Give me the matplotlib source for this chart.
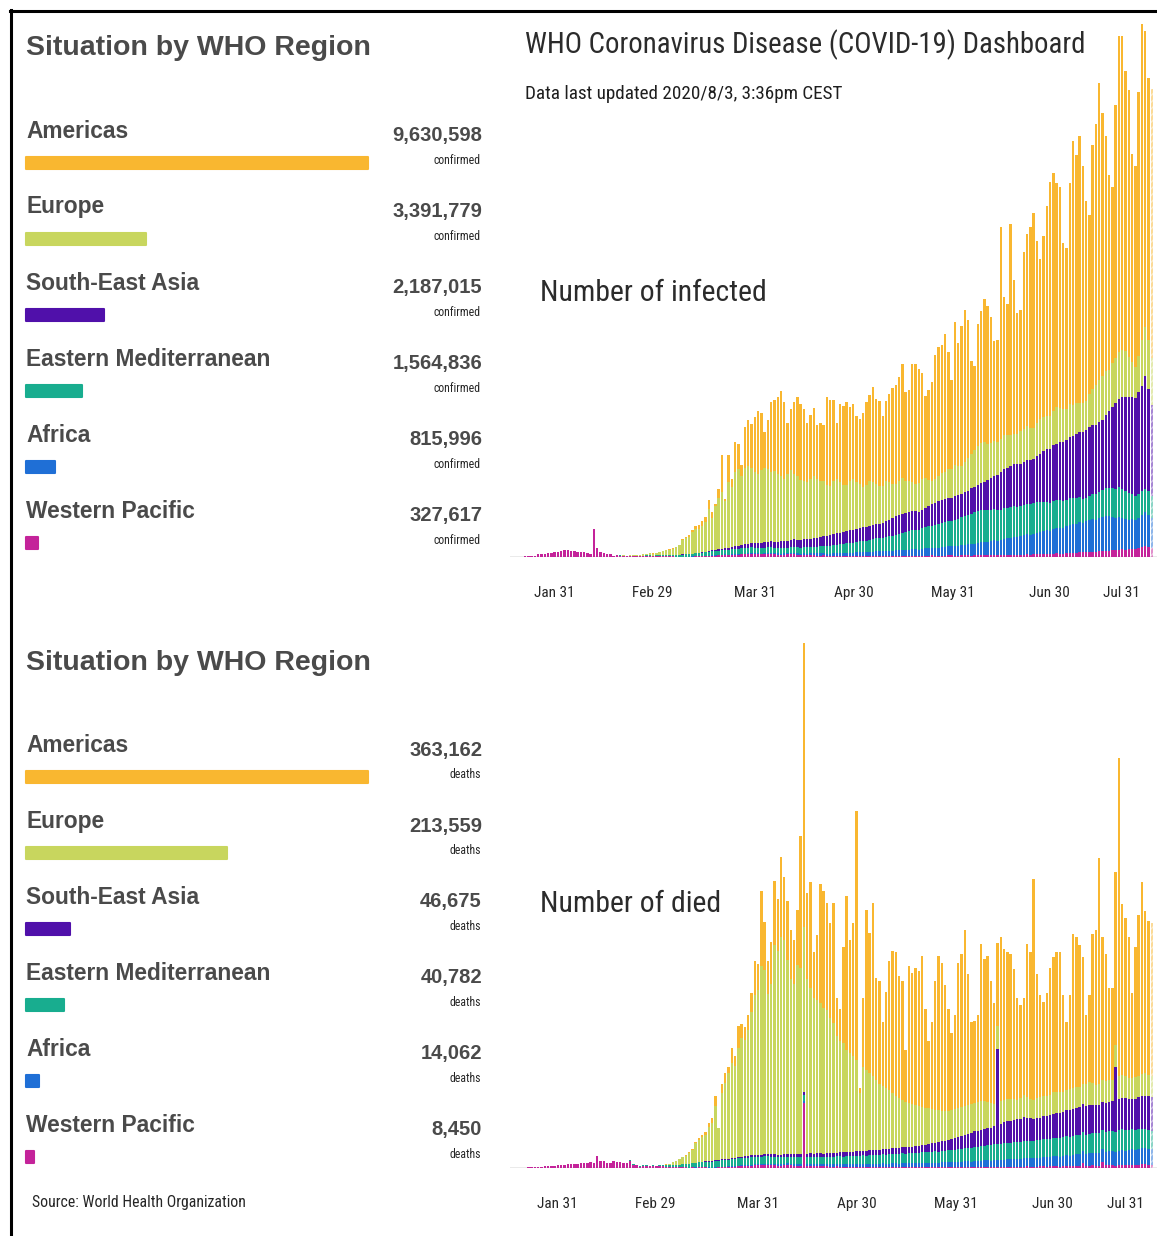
import matplotlib
matplotlib.use('Agg')

import numpy as np
import pandas as pd
import matplotlib.pyplot as plt
import matplotlib.dates as mdates
from matplotlib.lines import Line2D

W, H = 1157, 1236
NARROW = ['Liberation Sans Narrow', 'Roboto Condensed', 'DejaVu Sans']
BOLD = ['Liberation Sans', 'DejaVu Sans']

regions = ['Americas', 'Europe', 'South-East Asia', 'Eastern Mediterranean', 'Africa', 'Western Pacific']
colors = ['#f9b730', '#c8d65e', '#5010aa', '#18ad8f', '#1f6fd6', '#c4239a']
confirmed_totals = [9630598, 3391779, 2187015, 1564836, 815996, 327617]
death_totals = [363162, 213559, 46675, 40782, 14062, 8450]

# one bar per day, 2020-01-21 .. 2020-08-02 (last day still incomplete)
days = pd.date_range('2020-01-21', periods=194)

# ---- daily new cases, thousands ----
wp_cases = [0.15, 0.15, 0.3, 0.5, 0.7, 0.8, 1.8, 1.5, 1.7, 2.0,
            2.1, 2.6, 2.8, 3.2, 3.9, 3.7, 3.2, 3.4, 2.7, 3.0,
            2.5, 2.0, 1.8, 15.2, 5.1, 2.6, 2.0, 1.9, 1.8, 0.4,
            0.9, 0.8, 0.65, 0.4, 0.5, 0.45, 0.45, 0.4, 0.5, 0.6,
            0.6, 0.3, 0.3, 0.3, 0.35, 0.35, 0.3, 0.3, 0.25, 0.2,
            0.15, 0.2, 0.2, 0.25, 0.3, 0.35, 0.4, 0.5, 0.6, 0.7,
            0.8, 0.9, 1.0, 1.1, 1.0, 1.2, 1.3, 1.3, 1.4, 1.5,
            1.6, 1.8, 1.5, 1.6, 1.4, 1.5, 1.7, 1.8, 1.4, 1.3,
            1.2, 1.3, 1.5, 1.6, 1.4, 1.2, 1.0, 1.0, 0.9, 1.0,
            0.9, 0.8, 0.8, 0.9, 0.7, 0.6, 0.7, 0.8, 0.6, 0.6,
            0.7, 0.6, 0.5, 0.6, 0.7, 0.6, 0.5, 0.6, 0.7, 0.8,
            0.7, 0.6, 0.7, 0.6, 0.6, 0.7, 0.8, 0.7, 0.6, 0.7,
            0.8, 0.7, 0.6, 0.7, 0.7, 0.8, 0.9, 0.8, 0.7, 0.8,
            0.8, 0.9, 0.9, 0.8, 0.7, 0.9, 1.0, 0.9, 0.8, 0.9,
            1.0, 1.1, 1.0, 0.9, 1.1, 1.2, 1.0, 1.1, 1.2, 1.1,
            1.2, 1.3, 1.2, 1.1, 1.3, 1.4, 1.2, 1.4, 1.5, 1.4,
            1.6, 1.7, 1.5, 1.8, 2.0, 1.9, 1.8, 2.1, 2.3, 2.2,
            2.4, 2.6, 2.5, 2.7, 2.9, 3.0, 2.8, 3.1, 3.3, 3.4,
            3.5, 3.8, 3.6, 3.9, 4.2, 4.1, 4.4, 4.6, 4.5, 4.9,
            5.6, 6.0, 5.4, 5.2]
afr_cases = [0] * 50 + [
            0.02, 0.03, 0.04, 0.05, 0.06, 0.08, 0.1, 0.12, 0.15, 0.18,
            0.2, 0.22, 0.25, 0.28, 0.3, 0.3, 0.32, 0.35, 0.38, 0.4,
            0.42, 0.45, 0.5, 0.48, 0.52, 0.55, 0.6, 0.58, 0.62, 0.65,
            0.7, 0.68, 0.72, 0.8, 0.85, 0.9, 0.88, 0.95, 1.0, 1.05,
            1.1, 1.15, 1.2, 1.25, 1.2, 1.3, 1.4, 1.45, 1.5, 1.6,
            1.7, 1.8, 1.75, 1.9, 2.0, 2.1, 2.0, 2.2, 2.3, 2.4,
            2.5, 2.6, 2.5, 2.7, 2.8, 3.0, 2.9, 3.1, 3.2, 3.3,
            3.4, 3.6, 3.5, 3.8, 4.0, 4.1, 4.0, 4.3, 4.5, 4.6,
            4.8, 5.0, 4.9, 5.3, 5.6, 5.8, 5.7, 6.0, 6.3, 6.5,
            6.8, 7.2, 7.0, 7.5, 7.9, 8.2, 8.0, 8.4, 8.8, 9.1,
            9.5, 9.9, 9.6, 10.2, 10.6, 11.0, 10.8, 11.4, 11.9, 12.3,
            12.6, 13.0, 12.7, 13.4, 13.9, 14.3, 14.1, 14.8, 15.3, 15.7,
            16.0, 16.6, 16.2, 17.1, 17.6, 18.0, 17.7, 18.4, 18.9, 19.3,
            18.8, 18.2, 17.6, 18.0, 17.4, 16.8, 16.2, 16.5, 15.9, 16.8,
            17.5, 18.6, 17.9, 16.0]
emr_cases = [0] * 28 + [
            0.01, 0.02, 0.03, 0.05, 0.08, 0.1, 0.12, 0.15, 0.2, 0.25, 0.3, 0.35,
            0.4, 0.5, 0.55, 0.6, 0.7, 0.75, 0.8, 0.9, 1.0, 1.1,
            1.2, 1.3, 1.4, 1.5, 1.6, 1.7, 1.9, 2.0, 2.1, 2.2,
            2.3, 2.4, 2.5, 2.6, 2.6, 2.7, 2.7, 2.8, 2.9, 2.9,
            2.9, 3.0, 3.0, 2.9, 2.8, 2.9, 3.0, 3.1, 3.0, 2.9,
            3.0, 3.1, 3.0, 3.2, 3.3, 3.2, 3.3, 3.4, 3.5, 3.4,
            3.5, 3.7, 3.8, 4.0, 4.1, 4.3, 4.5, 4.6, 4.8, 5.0,
            5.3, 5.5, 5.6, 5.8, 6.0, 6.2, 6.4, 6.5, 6.8, 7.0,
            7.2, 7.5, 7.8, 8.1, 8.3, 8.6, 9.0, 9.3, 9.7, 10.1,
            10.5, 10.8, 11.0, 11.4, 11.8, 12.0, 12.3, 12.6, 13.0, 13.2,
            13.5, 13.7, 13.8, 14.3, 14.8, 15.2, 15.8, 16.3, 16.8, 17.1,
            17.4, 17.6, 17.6, 17.3, 17.0, 16.8, 16.6, 16.5, 16.7, 16.9,
            16.8, 16.6, 16.5, 16.7, 16.9, 17.0, 17.1, 17.0, 16.7, 16.3,
            16.0, 15.7, 15.4, 15.6, 15.3, 15.1, 14.9, 14.7, 15.0, 14.6,
            14.2, 13.8, 13.3, 12.8, 13.2, 13.6, 14.0, 14.3, 14.5, 15.0,
            15.5, 16.0, 16.4, 16.5, 16.0, 15.2, 14.5, 13.8, 13.2, 13.0,
            13.1, 13.0, 13.2, 12.5]
sear_cases = [0] * 45 + [
            0.02, 0.03, 0.03, 0.04, 0.05,
            0.06, 0.08, 0.1, 0.12, 0.15, 0.18, 0.22, 0.3, 0.4, 0.5,
            0.6, 0.7, 0.8, 0.95, 1.1, 1.3, 1.5, 1.7, 1.9, 2.1,
            2.3, 2.5, 2.7, 2.8, 2.9, 3.1, 3.2, 3.3, 3.5, 3.6,
            3.8, 3.9, 3.7, 4.0, 4.1, 4.3, 4.2, 4.4, 4.6, 4.7,
            4.8, 5.0, 5.2, 5.5, 5.8, 6.0, 6.1, 6.3, 6.5, 6.6,
            6.7, 6.9, 7.0, 7.2, 7.3, 7.4, 7.5, 7.5, 7.6, 7.7,
            7.8, 8.2, 8.6, 9.0, 9.5, 10.0, 10.2, 10.4, 10.5, 10.6,
            10.5, 10.0, 9.6, 10.1, 10.7, 11.3, 11.8, 12.1, 12.4, 12.6,
            12.8, 12.9, 13.0, 13.1, 13.0, 12.9, 13.0, 13.2, 13.8, 14.2,
            14.6, 15.0, 15.4, 16.5, 17.6, 18.6, 19.5, 21.0, 21.6, 22.1,
            22.6, 23.1, 23.6, 23.4, 23.6, 23.9, 24.1, 24.3, 25.5, 26.7,
            27.9, 28.9, 30.0, 30.6, 31.2, 31.8, 32.4, 33.0, 33.5, 34.2,
            35.0, 35.8, 36.6, 37.4, 37.8, 38.0, 38.2, 38.5, 38.6, 40.5,
            42.3, 44.6, 47.0, 48.5, 50.2, 52.0, 52.7, 53.3, 54.0, 56.0,
            58.0, 62.0, 56.0, 50.0]
eur_cases = [0] * 29 + [
            0.02, 0.05, 0.1, 0.15, 0.2, 0.25, 0.35, 0.45, 0.6, 0.7, 0.8,
            1.0, 1.1, 1.5, 1.8, 2.2, 2.6, 2.9, 3.4, 4.0, 5.0,
            8.0, 8.7, 9.5, 11.7, 13.3, 13.3, 14.7, 16.1, 23.1, 17.7,
            24, 28, 31, 26, 36, 33, 41, 42, 38, 42,
            43, 41, 39, 38, 40, 41, 40, 38, 39, 37,
            36, 34, 37, 38, 36, 35, 33, 32, 31, 33,
            34, 32, 31, 30, 28, 27, 29, 30, 28, 26,
            25, 27, 28, 26, 24, 22, 23, 25, 24, 22,
            21, 20, 22, 21, 19, 18, 19, 20, 18, 17,
            16, 15, 16, 17, 16, 14, 13, 13, 14, 15,
            15, 16, 16, 17, 16, 15, 17, 18, 19, 20,
            21, 22, 22, 20, 19, 19, 18, 18, 19, 18,
            17, 17, 17, 18, 18, 19, 18, 17, 18, 19,
            19, 18, 18, 19, 20, 19, 18, 17, 18, 17,
            17, 16, 16, 16, 18, 20, 22, 23, 24, 24,
            23, 24, 25, 26, 26, 25, 22, 19, 17, 20,
            25, 27, 27, 26]
amr_cases = [0] * 40 + [
            0.02, 0.03, 0.05, 0.06, 0.08, 0.1, 0.15, 0.2, 0.3, 0.4,
            0.5, 0.7, 0.9, 1.2, 1.6, 2.0, 2.5, 3.0, 5.0, 3.5,
            1.0, 5.2, 20.5, 1.0, 15.1, 4.4, 16.5, 14.0, 6.0, 22.6,
            25.2, 24.5, 30.3, 34.5, 31.6, 19.8, 26.9, 38.5, 38.9, 42.5,
            46.6, 42.3, 27.8, 33.8, 39.7, 43.4, 41.8, 39.7, 32.7, 35.0,
            37.7, 30.0, 31.7, 31.0, 48.2, 47.2, 44.7, 30.6, 42.8, 43.3,
            45.9, 40.7, 41.4, 36.1, 35.9, 40.9, 45.9, 47.3, 52.1, 47.0,
            46.6, 38.7, 44.2, 48.3, 52.8, 54.3, 57.1, 62.7, 48.8, 50.2,
            65.0, 66.1, 62.7, 58.2, 45.4, 49.7, 54.3, 68.3, 70.9, 70.4,
            75.8, 64.3, 48.8, 78.8, 67.6, 77.3, 83.4, 76.0, 51.1, 46.4,
            67.4, 72.4, 78.9, 75.9, 69.4, 55.0, 56.3, 116.5, 75.7, 72.0,
            116.1, 84.5, 66.3, 66.5, 97.4, 105.4, 110.3, 118.1, 100.2, 88.2,
            99.5, 115.8, 128.7, 130.8, 123.3, 121.4, 91.5, 88.4, 121.6, 145.1,
            136.5, 146.8, 130.5, 109.8, 98.6, 134.0, 143.5, 163.4, 144.9, 129.4,
            107.0, 96.9, 139.0, 173.7, 172.8, 154.2, 147.1, 114.5, 110.5, 145.1,
            174.0, 162.7, 144.0, 147.7]

# ---- daily deaths ----
wp_deaths = [6, 9, 8, 16, 15, 24, 26, 26, 38, 43,
             46, 45, 57, 64, 65, 73, 73, 86, 89, 97,
             108, 97, 121, 110, 254, 143, 142, 105, 98, 136,
             114, 118, 109, 97, 150, 71, 52, 29, 44, 47,
             35, 42, 31, 38, 31, 30, 28, 27, 22, 17,
             22, 11, 7, 13, 10, 14, 13, 11, 8, 3,
             10, 15, 20, 20, 25, 30, 30, 35, 40, 45,
             45, 50, 55, 60, 55, 60, 65, 60, 55, 50,
             50, 55, 60, 55, 50, 45, 45, 1335, 50, 45,
             40, 45, 40, 35, 35, 30, 30, 35, 30, 25,
             25, 30, 25, 25, 30, 25, 20, 20, 25, 20,
             20, 25, 20, 20, 25, 20, 20, 25, 20, 20,
             20, 20, 25, 20, 20, 25, 20, 20, 25, 20,
             20, 25, 20, 20, 25, 20, 25, 20, 20, 25,
             20, 25, 25, 20, 25, 30, 25, 20, 25, 30,
             30, 25, 30, 25, 30, 35, 30, 25, 30, 35,
             35, 30, 35, 40, 35, 30, 35, 40, 45, 40,
             45, 50, 110, 40, 50, 55, 50, 45, 120, 55,
             60, 55, 50, 60, 65, 60, 55, 70, 65, 70,
             75, 80, 70, 65]
afr_deaths = [0] * 50 + [
             0, 1, 1, 1, 2, 2, 3, 3, 4, 5,
             5, 6, 8, 9, 10, 11, 12, 14, 15, 16,
             18, 20, 22, 20, 24, 25, 26, 28, 27, 30,
             30, 32, 33, 35, 34, 36, 38, 37, 40, 42,
             40, 44, 45, 42, 46, 48, 50, 47, 52, 55,
             52, 56, 58, 55, 60, 62, 58, 64, 66, 63,
             65, 68, 70, 66, 72, 75, 70, 76, 78, 74,
             80, 82, 78, 85, 88, 84, 90, 92, 88, 95,
             98, 102, 96, 105, 108, 104, 112, 115, 110, 120,
             125, 120, 130, 135, 128, 140, 145, 138, 150, 155,
             150, 160, 165, 158, 170, 175, 168, 180, 185, 178,
             190, 195, 188, 200, 210, 205, 215, 220, 212, 225,
             235, 240, 230, 245, 255, 250, 260, 270, 262, 275,
             285, 290, 280, 300, 310, 298, 315, 320, 310, 325,
             335, 340, 330, 320]
emr_deaths = [0] * 29 + [
             2, 2, 3, 4, 5, 6, 8, 9, 10, 11, 12,
             12, 15, 17, 20, 25, 30, 35, 40, 45, 55,
             60, 70, 75, 85, 90, 100, 105, 115, 120, 125,
             130, 125, 135, 140, 135, 140, 145, 150, 145, 150,
             150, 155, 150, 145, 150, 155, 150, 145, 150, 140,
             140, 145, 140, 135, 140, 145, 140, 135, 140, 145,
             140, 145, 150, 145, 150, 155, 150, 155, 160, 155,
             160, 165, 160, 170, 165, 175, 170, 180, 175, 185,
             180, 190, 185, 195, 190, 200, 195, 205, 200, 210,
             205, 215, 210, 220, 215, 225, 220, 230, 225, 235,
             230, 240, 245, 250, 255, 265, 270, 275, 280, 290,
             295, 300, 305, 310, 315, 320, 325, 330, 335, 340,
             345, 350, 345, 355, 360, 355, 365, 360, 370, 365,
             370, 375, 370, 380, 375, 385, 380, 390, 385, 395,
             390, 400, 395, 405, 400, 410, 405, 415, 410, 420,
             415, 425, 420, 430, 425, 420, 415, 410, 405, 400,
             395, 390, 385, 380]
sear_deaths = [0] * 50 + [
             1, 1, 2, 2, 3, 3, 4, 5, 6, 8,
             10, 12, 14, 16, 18, 20, 22, 25, 28, 30,
             32, 35, 38, 40, 42, 45, 48, 50, 52, 55,
             55, 58, 60, 62, 60, 65, 63, 66, 68, 70,
             72, 70, 74, 76, 75, 78, 80, 78, 82, 85,
             88, 85, 90, 92, 95, 98, 96, 100, 105, 102,
             108, 112, 110, 115, 118, 120, 125, 122, 128, 130,
             135, 140, 145, 150, 160, 165, 175, 180, 190, 200,
             210, 220, 230, 240, 250, 265, 280, 300, 310, 320,
             330, 340, 345, 350, 360, 370, 1950, 420, 430, 440,
             450, 460, 470, 480, 490, 470, 460, 450, 455, 460,
             470, 480, 490, 500, 510, 520, 530, 540, 550, 555,
             560, 570, 580, 590, 600, 590, 580, 570, 575, 580,
             600, 620, 1340, 640, 650, 660, 640, 630, 650, 660,
             670, 680, 690, 700]
eur_deaths = [0] * 42 + [
             1, 3, 6, 12, 19, 55, 75, 110,
             134, 170, 225, 265, 401, 459, 505, 548, 709, 789,
             1120, 660, 1370, 1570, 1770, 1960, 1900, 2250, 2450, 2400,
             2600, 2950, 3300, 3400, 3900, 3800, 3300, 3500, 4300, 4200,
             4480, 4400, 4000, 3600, 3500, 3900, 3830, 3400, 3600, 3400,
             3200, 3150, 3100, 3000, 2950, 2780, 2680, 2400, 2300, 2250,
             2100, 2030, 1970, 1880, 1200, 1720, 1670, 1590, 1520, 1440,
             1360, 1290, 1260, 1210, 1140, 1070, 1030, 970, 930, 900,
             880, 840, 820, 780, 750, 740, 710, 670, 670, 620,
             620, 590, 600, 600, 600, 600, 590, 590, 600, 580,
             590, 595, 575, 545, 510, 460, 480, 470, 460, 450,
             440, 420, 400, 430, 450, 420, 400, 390, 410, 430,
             420, 410, 430, 450, 440, 420, 400, 410, 430, 440,
             430, 410, 420, 450, 460, 440, 420, 430, 450, 460,
             450, 430, 440, 460, 470, 450, 430, 420, 440, 450,
             460, 470, 450, 440]
amr_deaths = [0] * 43 + [
             1, 1, 2, 2, 3, 5, 8,
             10, 15, 20, 25, 30, 40, 50, 60, 80, 100,
             208, 10, 183, 202, 123, 311, 198, 451, 288, 264,
             307, 395, 699, 537, 1535, 983, 675, 873, 1328, 1066,
             1652, 1305, 1207, 1016, 913, 1124, 2723, 5842, 1767, 2190,
             958, 1346, 2441, 2408, 2203, 1956, 2469, 787, 651, 1983,
             3178, 2331, 2744, 5132, 98, 1422, 3301, 2887, 3568, 2104,
             2119, 1323, 1981, 2658, 2925, 2965, 2515, 2454, 1075, 2827,
             2697, 2823, 2780, 3112, 2042, 1377, 1793, 2660, 3169, 3053,
             2592, 2098, 1590, 1937, 2985, 3154, 3626, 2696, 1688, 1693,
             1792, 3234, 2925, 3007, 2514, 2079, 1710, 3381, 3111, 3035,
             2993, 2684, 2092, 1910, 2002, 3159, 3027, 4548, 2546, 2096,
             1935, 2115, 2607, 2777, 2880, 2890, 2004, 1408, 1942, 3165,
             3099, 2924, 2612, 1422, 1799, 3075, 3188, 4656, 2942, 2618,
             1898, 1888, 3568, 6556, 3518, 3262, 2904, 1755, 2683, 3307,
             3957, 3334, 3163, 3142]

tick_dates = ['2020-01-31', '2020-02-29', '2020-03-31', '2020-04-30',
              '2020-05-31', '2020-06-30', '2020-07-31']
tick_labels = ['Jan 31', 'Feb 29', 'Mar 31', 'Apr 30', 'May 31', 'Jun 30', 'Jul 31']

for s in [wp_cases, afr_cases, emr_cases, sear_cases, eur_cases, amr_cases,
          wp_deaths, afr_deaths, emr_deaths, sear_deaths, eur_deaths, amr_deaths]:
    assert len(s) == len(days), len(s)


def fx(x):
    return x / W


def fy(y):
    return 1 - y / H


fig = plt.figure(figsize=(W / 100, H / 100), dpi=100)
fig.patch.set_facecolor('white')

# frame on the left and top
fig.add_artist(Line2D([fx(10.5), fx(10.5)], [fy(9.5), 0], color='black', lw=2.2,
                      transform=fig.transFigure))
fig.add_artist(Line2D([fx(9.5), 1], [fy(10.5), fy(10.5)], color='black', lw=2.2,
                      transform=fig.transFigure))


def region_list(title_y, first_bar_y, totals, unit):
    fig.text(fx(26), fy(title_y), 'Situation by WHO Region', fontsize=20.5,
             fontweight='bold', color='#4a4a4a', va='center', family=BOLD)
    top = first_bar_y - 38
    bot = first_bar_y + 5 * 76 + 38
    ax = fig.add_axes([fx(26), fy(bot), fx(368) - fx(26), fy(top) - fy(bot)])
    ax.set_xlim(0, max(totals))
    ax.set_ylim(5.5, -0.5)
    ax.barh(range(6), totals, height=12 / 76, color=colors, edgecolor=colors,
            linewidth=1.5, joinstyle='round', clip_on=False)
    ax.axis('off')
    yt = ax.get_yaxis_transform()
    for r, (name, val) in enumerate(zip(regions, totals)):
        ax.text(0, r - 32 / 76, name, fontsize=16.4, fontweight='bold', color='#4a4a4a',
                va='center', ha='left', family=BOLD)
        ax.text((482 - 26) / 342, r - 27 / 76, f'{val:,}', fontsize=14.5, fontweight='bold',
                color='#4a4a4a', va='center', ha='right', family=BOLD, transform=yt)
        ax.text((481 - 26) / 342, r - 3 / 76, unit, fontsize=8.5, color='#262626',
                va='center', ha='right', family=NARROW, transform=yt)


region_list(48, 163, confirmed_totals, 'confirmed')
region_list(663, 777, death_totals, 'deaths')


def stacked(base_y, top_y, ymax, layers, dx):
    ax = fig.add_axes([fx(510), fy(base_y), 1 - fx(510), fy(top_y) - fy(base_y)])
    ax.set_facecolor('none')
    bottom = np.zeros(len(days))
    # bottom-up: Western Pacific, Africa, E. Med., SE Asia, Europe, Americas
    for vals, c in zip(layers, colors[::-1]):
        vals = np.asarray(vals, dtype=float)
        ax.bar(days[:-1], vals[:-1], width=0.74, bottom=bottom[:-1], color=c, linewidth=0)
        ax.bar(days[-1:], vals[-1:], width=0.74, bottom=bottom[-1:], color=c, alpha=0.5,
               hatch='/////', edgecolor='white', linewidth=0)
        bottom += vals
    ax.axhline(0, color='#e6e6e6', lw=1.2, zorder=0)
    ax.set_xlim(days[0] - pd.Timedelta(days=2.6), days[0] + pd.Timedelta(days=194.6))
    ax.set_ylim(0, ymax)
    ax.set_xticks([])
    ax.set_yticks([])
    for sp in ax.spines.values():
        sp.set_visible(False)
    for d, lab, off in zip(tick_dates, tick_labels, dx):
        ax.annotate(lab, xy=(mdates.date2num(pd.Timestamp(d)), 0),
                    xycoords=('data', 'axes fraction'), xytext=(off, -36),
                    textcoords='offset pixels', ha='center', va='center',
                    fontsize=11, color='#262626', family=NARROW, annotation_clip=False)
    return ax


stacked(557, 20, 295.4,
        [wp_cases, afr_cases, emr_cases, sear_cases, eur_cases, amr_cases],
        [3, 6, 7, 7, 5, 3, -27])
stacked(1168, 640, 10877,
        [wp_deaths, afr_deaths, emr_deaths, sear_deaths, eur_deaths, amr_deaths],
        [6, 9, 10, 10, 8, 6, -23])

fig.text(fx(525), fy(45), 'WHO Coronavirus Disease (COVID-19) Dashboard', fontsize=20.7,
         color='#2b2b2b', va='center', family=NARROW)
fig.text(fx(525), fy(94), 'Data last updated 2020/8/3, 3:36pm CEST', fontsize=13.8,
         color='#1e1e1e', va='center', family=NARROW)
fig.text(fx(540), fy(293), 'Number of infected', fontsize=21.4, color='#2b2b2b',
         va='center', family=NARROW)
fig.text(fx(540), fy(904), 'Number of died', fontsize=21.4, color='#2b2b2b',
         va='center', family=NARROW)
fig.text(fx(32), fy(1203), 'Source: World Health Organization', fontsize=11.3,
         color='#262626', va='center', family=NARROW)

fig.savefig('out.png', dpi=100, facecolor='white')
plt.close(fig)
